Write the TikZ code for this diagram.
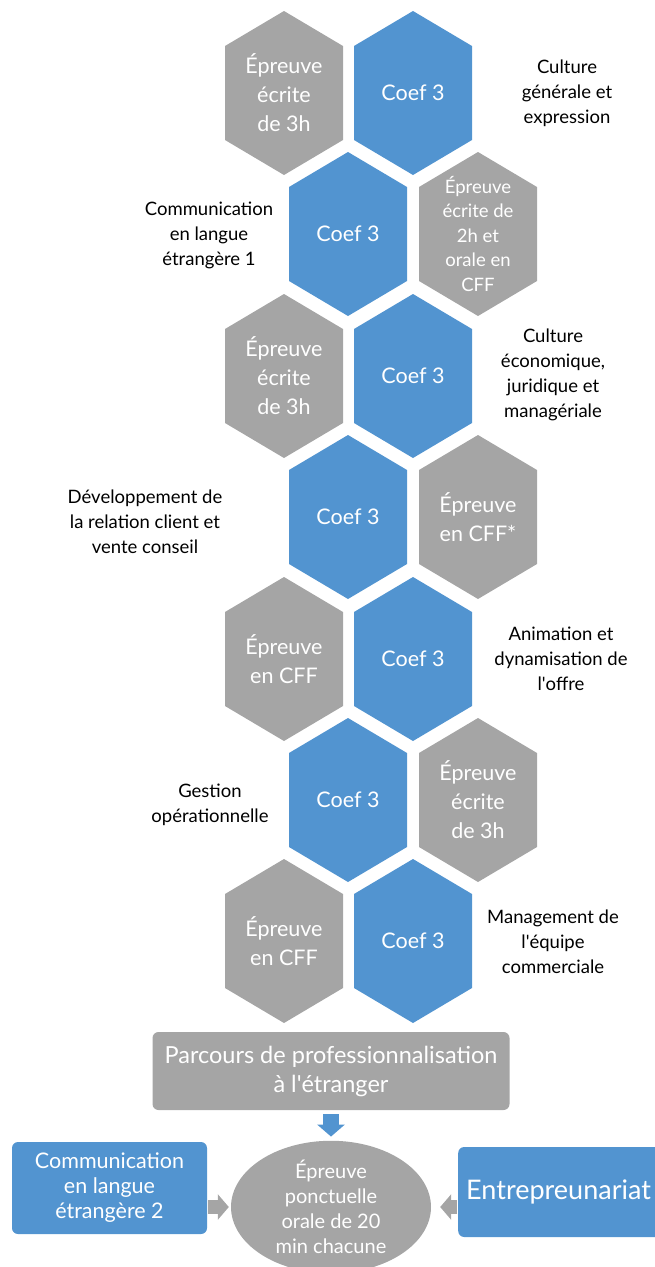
\documentclass[tikz,border=0pt]{standalone}
\usepackage{fontspec}
\setmainfont{Lato}
\usetikzlibrary{arrows.meta,shapes.geometric}
\definecolor{bleuoff}{RGB}{82,148,208}
\definecolor{grisoff}{RGB}{165,165,165}
\tikzset{
	hexbleu/.style={fill=bleuoff},
	hexgris/.style={fill=grisoff},
	textehex/.style={text=white, align=center, font=\fontsize{21.5}{29}\selectfont},
	petithex/.style={text=white, align=center, font=\fontsize{18.5}{24.5}\selectfont},
	matiere/.style={align=center, font=\fontsize{18.5}{25}\selectfont},
	boite/.style={rounded corners=6pt, align=center, text=white, inner sep=0pt},
	flechebleue/.style={-{Triangle[width=27pt,length=12pt]}, line width=16pt, draw=bleuoff},
	flechegrise/.style={-{Triangle[width=25pt,length=11pt]}, line width=14pt, draw=grisoff}
}
\begin{document}
\begin{tikzpicture}[x=1pt,y=-1pt]
	\useasboundingbox (0,0) rectangle (654,1267);
	% Hexagones
	\foreach \nom/\cx/\cy/\fond/\st/\txt in {
		epA/284/93/hexgris/textehex/{Épreuve\\écrite\\de 3h},
		coefA/413/93/hexbleu/textehex/{Coef 3},
		coefB/348/234/hexbleu/textehex/{Coef 3},
		epB/478/234/hexgris/petithex/{Épreuve\\écrite de\\2h et\\orale en\\CFF},
		epC/284/376/hexgris/textehex/{Épreuve\\écrite\\de 3h},
		coefC/413/376/hexbleu/textehex/{Coef 3},
		coefD/348/517/hexbleu/textehex/{Coef 3},
		epD/478/517/hexgris/textehex/{Épreuve\\en CFF*},
		epE/284/659/hexgris/textehex/{Épreuve\\en CFF},
		coefE/413/659/hexbleu/textehex/{Coef 3},
		coefF/348/800/hexbleu/textehex/{Coef 3},
		epF/478/800/hexgris/textehex/{Épreuve\\écrite\\de 3h},
		epG/284/941/hexgris/textehex/{Épreuve\\en CFF},
		coefG/413/941/hexbleu/textehex/{Coef 3}}
	{
		\fill[\fond] (\cx,\cy-82) -- (\cx+59,\cy-47) -- (\cx+59,\cy+47) --
		(\cx,\cy+82) -- (\cx-59,\cy+47) -- (\cx-59,\cy-47) -- cycle;
		\node[\st] (\nom) at (\cx,\cy) {\txt};
	}

	% Matieres
	\node[matiere] (cultgen) at (567,93) {Culture\\générale et\\expression};
	\node[matiere] (langueA) at (209,235) {Communication\\en langue\\étrangère 1};
	\node[matiere] (culteco) at (553,375) {Culture\\économique,\\juridique et\\managériale};
	\node[matiere] (relation) at (145,522) {Développement de\\la relation client et\\vente conseil};
	\node[matiere] (animation) at (561,659) {Animation et\\dynamisation de\\l\textquotesingle offre};
	\node[matiere] (gestion) at (210,805) {Gestion\\opérationnelle};
	\node[matiere] (management) at (553,942) {Management de\\l\textquotesingle équipe\\commerciale};

	% Epreuves facultatives
	\node[boite, fill=grisoff, minimum width=357, minimum height=78,
	font=\fontsize{23.5}{29}\selectfont] (parcours) at (331,1071)
	{Parcours de professionnalisation\\à l\textquotesingle étranger};
	\node[ellipse, fill=grisoff, minimum width=200, minimum height=126,
	inner sep=0pt, text=white, align=center,
	font=\fontsize{20}{25}\selectfont] (ponctuelle) at (331,1207)
	{Épreuve\\ponctuelle\\orale de 20\\min chacune};
	\node[boite, fill=bleuoff, minimum width=195, minimum height=92,
	font=\fontsize{21.5}{25}\selectfont] (langueB) at (109.5,1188)
	{Communication\\en langue\\étrangère 2};
	\node[boite, fill=bleuoff, anchor=west, text width=204, align=left,
	inner xsep=8pt, minimum height=90,
	font=\fontsize{27}{30}\selectfont] (entre) at (458,1192) {Entrepreunariat};

	% Fleches
	\draw[flechebleue, shorten <=4pt, shorten >=4pt] (parcours) -- (ponctuelle);
	\draw[flechegrise, shorten <=1pt, shorten >=2pt] (langueB.east |- ponctuelle.west) -- (ponctuelle.west);
	\draw[flechegrise, shorten <=1pt, shorten >=9pt] (entre.west |- ponctuelle.east) -- (ponctuelle.east);
\end{tikzpicture}
\end{document}
